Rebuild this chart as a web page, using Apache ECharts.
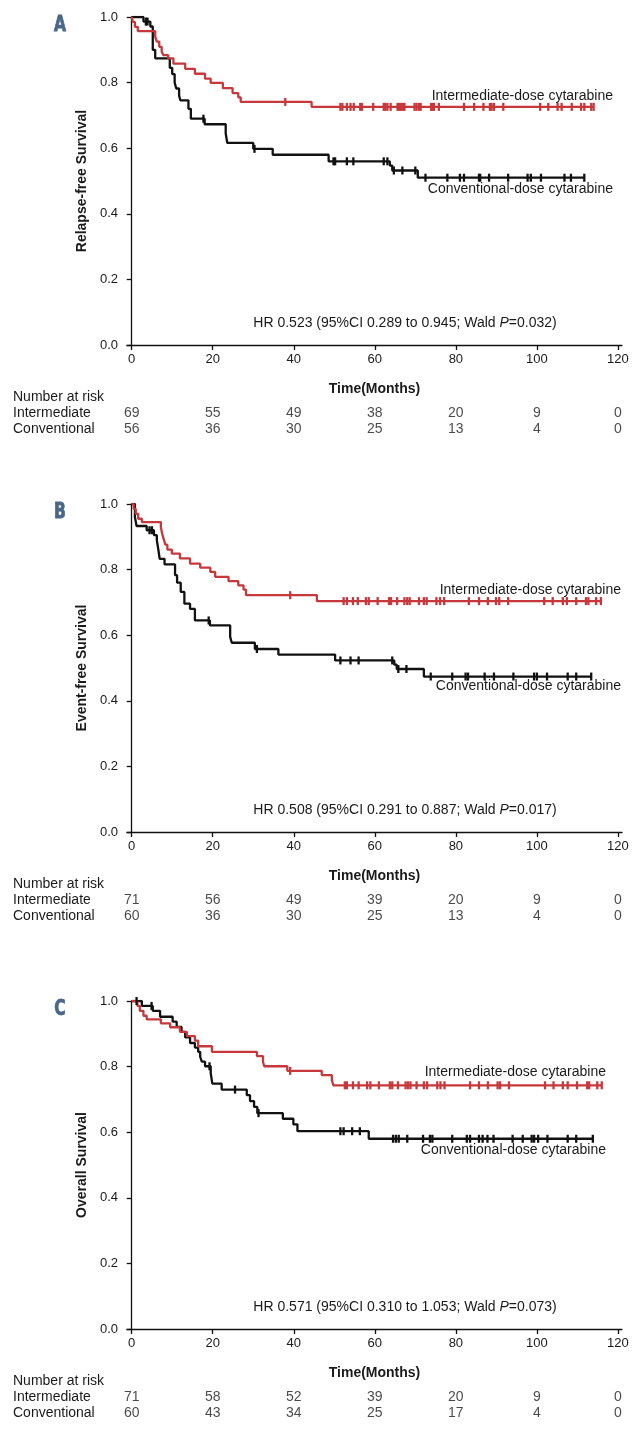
<!DOCTYPE html>
<html><head><meta charset="utf-8">
<script src="https://cdn.jsdelivr.net/npm/echarts@6/dist/echarts.min.js"></script>
<style>html,body{margin:0;padding:0;background:#fff}#c{width:638px;height:1432px}</style>
</head><body><div id="c"></div><script>
// ---------- data ----------
const xTickValues = [0, 20, 40, 60, 80, 100, 120];
const riskTimes = [0, 20, 40, 60, 80, 100, 120];
const riskRowNames = ['Number at risk', 'Intermediate', 'Conventional'];
const panelLetters = ['A', 'B', 'C'];
const yTitles = ['Relapse-free Survival', 'Event-free Survival', 'Overall Survival'];
const hrTexts = [
  ['HR 0.523 (95%CI 0.289 to 0.945; Wald ', 'P', '=0.032)'],
  ['HR 0.508 (95%CI 0.291 to 0.887; Wald ', 'P', '=0.017)'],
  ['HR 0.571 (95%CI 0.310 to 1.053; Wald ', 'P', '=0.073)']
];
const intLabel = 'Intermediate-dose cytarabine';
const convLabel = 'Conventional-dose cytarabine';

// Panel A – relapse-free survival
const aIntSteps = [[0,1],[0.3,0.985],[0.8,0.97],[1.5,0.957],[5.8,0.94],[6.2,0.925],[6.8,0.909],[7.4,0.894],[7.8,0.884],[9.0,0.874],[10.3,0.858],[13.2,0.842],[15.6,0.827],[18.1,0.812],[19.5,0.799],[22.5,0.783],[24.9,0.768],[26.3,0.755],[26.9,0.741],[44.4,0.726],[114.0,0.726]];
const aIntCensor = [37.9,51.5,52.0,53.1,54.0,54.8,56.4,56.8,59.6,62.2,62.6,63.1,63.9,65.6,66.0,66.5,67.0,67.3,69.8,70.3,70.9,71.3,73.9,74.3,74.6,75.8,82.0,84.5,86.8,88.4,88.8,89.4,91.7,100.8,102.8,105.1,106.1,108.6,110.9,111.7,113.4,114.0];
const aConvSteps = [[0,1],[2.9,0.986],[4.6,0.971],[5.2,0.9],[5.8,0.874],[9.4,0.845],[10.0,0.826],[10.6,0.80],[11.0,0.782],[11.7,0.76],[12.0,0.746],[14.0,0.72],[14.6,0.69],[18.0,0.673],[23.2,0.645],[23.6,0.616],[30.0,0.598],[34.8,0.58],[48.6,0.56],[63.7,0.547],[64.3,0.532],[70.6,0.51],[111.7,0.51]];
const aConvCensor = [3.5,3.9,17.7,30.3,49.8,50.2,53.1,54.7,62.2,63.1,64.7,66.8,70.0,72.5,77.9,81.0,82.0,85.7,86.0,88.2,92.9,97.7,98.5,101.0,106.8,108.4,111.7];
const aRiskInt = [69, 55, 49, 38, 20, 9, 0];
const aRiskConv = [56, 36, 30, 25, 13, 4, 0];

// Panel B – event-free survival
const bIntSteps = [[0,1],[0.5,0.985],[1.0,0.97],[1.6,0.955],[2.5,0.945],[7.2,0.93],[7.5,0.91],[7.9,0.893],[8.3,0.876],[8.8,0.861],[9.9,0.849],[11.9,0.834],[14.4,0.818],[16.9,0.806],[19.4,0.793],[20.6,0.778],[23.9,0.765],[26.3,0.752],[27.6,0.739],[28.2,0.722],[45.7,0.704],[115.8,0.704]];
const bIntCensor = [39.1,52.3,53.1,54.6,55.8,57.8,58.5,60.7,63.5,64.0,65.5,67.3,68.0,68.6,70.9,72.1,72.8,75.2,76.1,77.1,83.2,85.7,87.9,89.9,90.7,92.9,101.8,103.9,106.4,107.4,109.7,112.1,112.7,114.6,115.8];
const bConvSteps = [[0,1],[0.8,0.96],[1.2,0.933],[3.7,0.92],[5.5,0.905],[6.2,0.89],[6.6,0.859],[6.9,0.833],[8.1,0.816],[10.7,0.783],[11.2,0.76],[12.1,0.732],[13.0,0.696],[14.4,0.68],[15.6,0.645],[19.3,0.63],[24.3,0.595],[24.7,0.577],[30.4,0.558],[36.2,0.541],[50.2,0.523],[64.8,0.51],[65.4,0.497],[72.1,0.474],[113.4,0.474]];
const bConvCensor = [4.4,5.0,19.0,30.9,51.5,54.0,56.0,64.3,65.8,67.8,73.8,79.1,82.4,83.0,87.1,89.4,94.2,99.3,100.0,102.5,107.6,109.7,113.4];
const bRiskInt = [71, 56, 49, 39, 20, 9, 0];
const bRiskConv = [60, 36, 30, 25, 13, 4, 0];

// Panel C – overall survival
const cIntSteps = [[0,1],[1.4,0.985],[2.0,0.97],[2.9,0.955],[3.7,0.944],[7.2,0.932],[9.5,0.92],[11.9,0.906],[13.6,0.893],[15.6,0.879],[16.4,0.862],[19.8,0.845],[30.9,0.832],[32.4,0.815],[32.7,0.801],[38.4,0.787],[46.9,0.774],[49.4,0.758],[49.8,0.743],[116.0,0.743]];
const cIntCensor = [39.1,52.6,53.1,54.6,56.0,58.1,58.9,61.0,63.7,64.3,65.7,67.6,68.2,68.8,70.3,72.1,72.9,75.4,76.2,77.2,83.5,85.7,87.9,90.3,90.9,93.1,102.0,104.1,106.4,107.6,109.9,112.4,112.9,114.9,116.0];
const cConvSteps = [[0,1],[2.5,0.985],[5.2,0.97],[7.0,0.952],[10.1,0.937],[11.1,0.921],[12.3,0.906],[13.2,0.889],[14.4,0.872],[15.6,0.858],[16.4,0.845],[16.9,0.83],[17.3,0.815],[18.1,0.801],[19.5,0.78],[19.9,0.748],[22.2,0.73],[28.4,0.713],[29.2,0.695],[30.2,0.677],[31.0,0.658],[37.3,0.641],[39.9,0.624],[40.9,0.603],[58.5,0.58],[113.8,0.58]];
const cConvCensor = [1.2,4.9,19.2,25.5,31.3,51.5,52.3,54.4,56.3,64.5,65.2,65.9,68.0,71.9,73.6,74.2,79.1,82.7,83.5,85.7,86.6,87.8,89.3,94.0,96.5,98.7,99.3,100.3,102.6,107.6,109.7,113.8];
const cRiskInt = [71, 58, 52, 39, 20, 9, 0];
const cRiskConv = [60, 43, 34, 25, 17, 4, 0];

// ---------- layout / style ----------
const RED = '#c6383b', BLACK = '#111111', TXT = '#1a1a1a', LETTER = '#4a6787';
const FONT = '"Liberation Sans", Arial, Helvetica, sans-serif';
const GL = 127, GW = 495, PH = 328;
const XMIN = -1.16, XMAX = 121;
const panels = [
  {top: 17,   int: aIntSteps, intC: aIntCensor, conv: aConvSteps, convC: aConvCensor, rInt: aRiskInt, rConv: aRiskConv, labRight: 613, intDy: -11, convDy: 11},
  {top: 504,  int: bIntSteps, intC: bIntCensor, conv: bConvSteps, convC: bConvCensor, rInt: bRiskInt, rConv: bRiskConv, labRight: 621, intDy: -11, convDy: 10},
  {top: 1001, int: cIntSteps, intC: cIntCensor, conv: cConvSteps, convC: cConvCensor, rInt: cRiskInt, rConv: cRiskConv, labRight: 606, intDy: -13, convDy: 11}
];

function valueAt(steps, t) {
  let v = steps[0][1];
  for (const s of steps) { if (s[0] <= t) v = s[1]; else break; }
  return v;
}

const grid = [], xAxis = [], yAxis = [], series = [];
const axisLineStyle = {color: BLACK, width: 1.3};
panels.forEach((p, i) => {
  const g = i * 2;
  grid.push({left: GL, width: GW, top: p.top, height: PH});
  grid.push({left: GL, width: GW, top: p.top + PH + 44, height: 48});
  xAxis.push({
    gridIndex: g, type: 'value', min: XMIN, max: XMAX,
    axisLine: {show: true, lineStyle: axisLineStyle},
    axisTick: {show: true, customValues: xTickValues, length: 5, lineStyle: axisLineStyle},
    axisLabel: {customValues: xTickValues, margin: 8, fontSize: 13, fontFamily: FONT, color: TXT},
    splitLine: {show: false},
    name: 'Time(Months)', nameLocation: 'middle', nameGap: 37,
    nameTextStyle: {fontWeight: 'bold', fontSize: 14, fontFamily: FONT, color: TXT}
  });
  xAxis.push({gridIndex: g + 1, type: 'value', min: XMIN, max: XMAX, show: false});
  yAxis.push({
    gridIndex: g, type: 'value', min: 0, max: 1, interval: 0.2,
    axisLine: {show: true, lineStyle: axisLineStyle},
    axisTick: {show: true, length: 5, lineStyle: axisLineStyle},
    axisLabel: {formatter: v => v.toFixed(1), margin: 9, fontSize: 13, fontFamily: FONT, color: TXT},
    splitLine: {show: false},
    name: yTitles[i], nameLocation: 'middle', nameGap: 37, nameRotate: 90,
    nameTextStyle: {fontWeight: 'bold', fontSize: 14, fontFamily: FONT, color: TXT}
  });
  yAxis.push({
    gridIndex: g + 1, type: 'category', data: riskRowNames, inverse: true,
    axisLine: {show: false}, axisTick: {show: false}, splitLine: {show: false},
    axisLabel: {interval: 0, align: 'left', margin: GL - 13, fontSize: 14, fontFamily: FONT, color: TXT}
  });
  const line = (steps, color) => ({
    type: 'line', xAxisIndex: g, yAxisIndex: g, data: steps, step: 'end',
    showSymbol: false, symbol: 'none', lineStyle: {color, width: 2.3}, itemStyle: {color}, z: 3, silent: true
  });
  const cens = (times, steps, color) => ({
    type: 'scatter', xAxisIndex: g, yAxisIndex: g,
    data: times.map(t => [t, valueAt(steps, t)]),
    symbol: 'rect', symbolSize: [2.3, 8], itemStyle: {color, opacity: 1}, z: 4, silent: true
  });
  series.push(line(p.conv, BLACK), line(p.int, RED));
  series.push(cens(p.convC, p.conv, BLACK), cens(p.intC, p.int, RED));
  const riskData = [];
  riskTimes.forEach((t, k) => { riskData.push([t, 1, p.rInt[k]]); riskData.push([t, 2, p.rConv[k]]); });
  series.push({
    type: 'scatter', xAxisIndex: g + 1, yAxisIndex: g + 1, data: riskData,
    symbolSize: 1, itemStyle: {color: 'rgba(0,0,0,0)'}, silent: true,
    label: {show: true, position: 'inside', formatter: prm => String(prm.data[2]),
      fontSize: 14, fontFamily: FONT, color: TXT}
  });
});

const chart = echarts.init(document.getElementById('c'), null, {renderer: 'canvas'});
chart.setOption({animation: false, backgroundColor: '#fff', grid, xAxis, yAxis, series});

// annotations positioned relative to the axes
const graphic = [];
panels.forEach((p, i) => {
  const g = i * 2;
  const lastInt = p.int[p.int.length - 1][1];
  const lastConv = p.conv[p.conv.length - 1][1];
  const yi = chart.convertToPixel({gridIndex: g}, [0, lastInt])[1];
  const yc = chart.convertToPixel({gridIndex: g}, [0, lastConv])[1];
  const axisY = chart.convertToPixel({gridIndex: g}, [0, 0])[1];
  graphic.push({type: 'text', x: 60, y: p.top + 9, scaleX: 0.82, style: {text: panelLetters[i], fill: LETTER,
    stroke: LETTER, lineWidth: 0.8,
    font: 'bold 21px "DejaVu Sans Condensed", "Liberation Sans", Arial, sans-serif', textAlign: 'center', textVerticalAlign: 'middle'}});
  graphic.push({type: 'text', x: p.labRight, y: yi + p.intDy, style: {text: intLabel, fill: TXT,
    font: '14px ' + FONT, textAlign: 'right', textVerticalAlign: 'middle'}});
  graphic.push({type: 'text', x: p.labRight, y: yc + p.convDy, style: {text: convLabel, fill: TXT,
    font: '14px ' + FONT, textAlign: 'right', textVerticalAlign: 'middle'}});
  graphic.push({type: 'text', x: 405, y: axisY - 22, style: {
    text: '{n|' + hrTexts[i][0] + '}{i|' + hrTexts[i][1] + '}{n|' + hrTexts[i][2] + '}',
    textAlign: 'center', textVerticalAlign: 'middle',
    rich: {n: {fontSize: 14, fontFamily: FONT, fill: TXT, color: TXT},
           i: {fontSize: 14, fontFamily: FONT, fontStyle: 'italic', fill: TXT, color: TXT}}}});
});
chart.setOption({graphic});
</script></body></html>
